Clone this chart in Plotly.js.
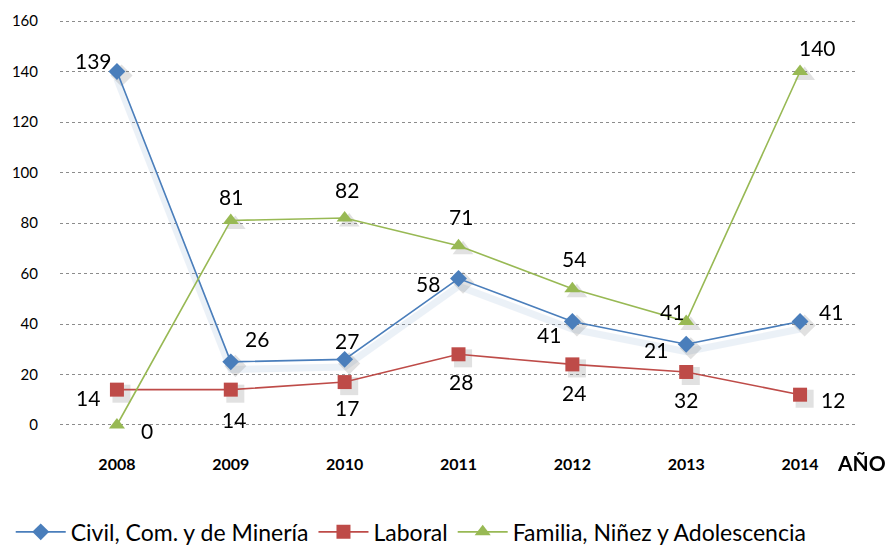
<!DOCTYPE html>
<html>
<head>
<meta charset="utf-8">
<script src="https://cdn.plot.ly/plotly-3.0.1.min.js"></script>
<style>
  html, body { margin: 0; padding: 0; background: #ffffff; }
  #chart { width: 894px; height: 545px; }
</style>
</head>
<body>
<div id="chart"></div>
<script>
// Categories and series
const years = ['2008', '2009', '2010', '2011', '2012', '2013', '2014'];

// plotted positions
const civil   = [140, 25, 26, 58, 41, 32, 41];
const laboral = [14, 14, 17, 28, 24, 21, 12];
const familia = [0, 81, 82, 71, 54, 41, 140];

// printed data labels (the original labels do not always match the point)
const civilLabels   = ['139', '26', '27', '58', '41', '21', '41'];
const laboralLabels = ['14', '14', '17', '28', '24', '32', '12'];
const familiaLabels = ['0', '81', '82', '71', '54', '41', '140'];

// label offsets in pixels [dx, dy] (screen coords, dy down)
const civilOffsets   = [[-23, -11], [26, -23], [2, -19], [-31, 5], [-23, 13], [-30, 5], [31, -10]];
const laboralOffsets = [[-29, 8], [3, 30], [2, 25], [2, 27], [2, 28], [0, 28], [33, 5]];
const familiaOffsets = [[30, 6], [0, -24], [2, -28], [2, -29], [2, -30], [-14, -10], [17, -24]];

const BLUE = '#4A7EBB', RED = '#BE4B48', GREEN = '#98B954';
const FONT = 'Lato, "Open Sans", sans-serif';
const labelFont = { family: FONT, size: 21, color: '#000000' };
const idx = years.map((_, i) => i);

function series(name, y, color, symbol, size) {
    return {
        x: idx,
        y: y,
        type: 'scatter',
        mode: 'lines+markers',
        name: name,
        line: { color: color, width: 1.6 },
        marker: { symbol: symbol, size: size, color: color, line: { width: 0 } },
        cliponaxis: false
    };
}

// soft glow under the blue line
function glow(y, color) {
    return {
        x: idx,
        y: y.map(v => v - 3),
        type: 'scatter',
        mode: 'lines',
        showlegend: false,
        hoverinfo: 'skip',
        line: { color: color, width: 7 },
        opacity: 0.1
    };
}

// drop shadow under the markers
function markerShadow(y, symbol, size) {
    return {
        x: idx.map(i => i + 0.04),
        y: y.map(v => v - 1.6),
        type: 'scatter',
        mode: 'markers',
        showlegend: false,
        hoverinfo: 'skip',
        cliponaxis: false,
        marker: { symbol: symbol, size: size + 4, color: '#555555', line: { width: 0 } },
        opacity: 0.18
    };
}

function labels(y, texts, offsets) {
    return y.map((v, i) => ({
        x: i,
        y: v,
        xref: 'x',
        yref: 'y',
        text: texts[i],
        showarrow: false,
        xshift: offsets[i][0],
        yshift: -offsets[i][1],
        font: labelFont
    }));
}

const traces = [
    glow(civil, BLUE),
    markerShadow(civil, 'diamond', 13),
    markerShadow(laboral, 'square', 14),
    markerShadow(familia, 'triangle-up', 14),
    series('Civil, Com. y de Minería', civil, BLUE, 'diamond', 13),
    series('Laboral', laboral, RED, 'square', 14),
    series('Familia, Niñez y Adolescencia', familia, GREEN, 'triangle-up', 14)
];

const annotations = [
    ...labels(civil, civilLabels, civilOffsets),
    ...labels(laboral, laboralLabels, laboralOffsets),
    ...labels(familia, familiaLabels, familiaOffsets),
    {
        xref: 'paper', yref: 'paper', x: 1.006, y: -0.091,
        xanchor: 'center', yanchor: 'middle',
        text: '<b>AÑO</b>', showarrow: false,
        font: { family: FONT, size: 21, color: '#000000' }
    }
];

const layout = {
    width: 894,
    height: 545,
    paper_bgcolor: '#ffffff',
    plot_bgcolor: '#ffffff',
    margin: { t: 20, r: 37, b: 119, l: 60 },
    font: { family: FONT, color: '#000000' },
    showlegend: true,
    legend: {
        orientation: 'h',
        xref: 'container', yref: 'container',
        x: 0.012, xanchor: 'left',
        y: 0.024, yanchor: 'middle',
        font: { family: FONT, size: 23, color: '#000000' },
        traceorder: 'normal',
        itemwidth: 50
    },
    xaxis: {
        range: [-0.5, 6.5],
        tickvals: idx,
        ticktext: years,
        showgrid: false,
        zeroline: false,
        showline: false,
        ticks: '',
        ticklabelstandoff: 27,
        tickfont: { family: FONT, size: 16, color: '#000000', weight: 'bold' }
    },
    yaxis: {
        range: [-0.4, 160.4],
        tickvals: [0, 20, 40, 60, 80, 100, 120, 140, 160],
        showgrid: true,
        gridcolor: '#8C8C8C',
        griddash: 'dot',
        gridwidth: 1,
        zeroline: false,
        showline: false,
        ticks: '',
        ticklabelstandoff: 21,
        tickfont: { family: FONT, size: 15, color: '#000000' }
    },
    annotations: annotations
};

Plotly.newPlot('chart', traces, layout, { displayModeBar: false, staticPlot: true });
</script>
</body>
</html>
